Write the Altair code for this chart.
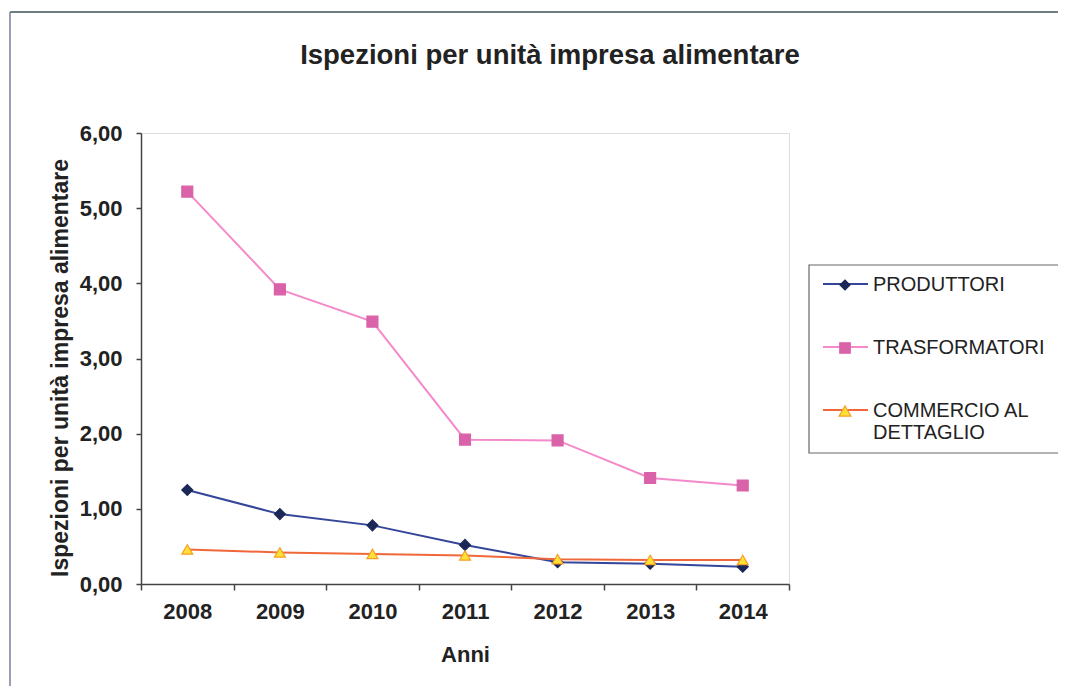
import altair as alt
import pandas as pd

# ---------------- data ----------------
chart_title = "Ispezioni per unità impresa alimentare"
y_title = "Ispezioni per unità impresa alimentare"
x_title = "Anni"
years = ["2008", "2009", "2010", "2011", "2012", "2013", "2014"]
series = ["PRODUTTORI", "TRASFORMATORI", "COMMERCIO AL DETTAGLIO"]
legend_labels = ["PRODUTTORI", "TRASFORMATORI", "COMMERCIO AL\nDETTAGLIO"]
produttori = [1.25, 0.93, 0.78, 0.52, 0.29, 0.27, 0.23]
trasformatori = [5.22, 3.92, 3.49, 1.92, 1.91, 1.41, 1.31]
commercio = [0.46, 0.42, 0.40, 0.38, 0.33, 0.32, 0.32]
y_ticks = [0, 1, 2, 3, 4, 5, 6]

rows = []
for s, vals in zip(series, [produttori, trasformatori, commercio]):
    for yr, v in zip(years, vals):
        rows.append({"Anno": yr, "Serie": s, "Valore": v})
df = pd.DataFrame(rows)
legend_df = pd.DataFrame({"Serie": series, "Label": legend_labels})
title_df = pd.DataFrame({"Titolo": [chart_title]})
frame_df = pd.DataFrame({"k": [1]})

# ---------------- styles ----------------
line_colors = ["#34469A", "#F58ACB", "#F0683A"]
fill_colors = ["#1B2756", "#D962A8", "#FFE033"]
stroke_colors = ["#1B2756", "#D962A8", "#F5A02A"]
shapes = ["diamond", "square", "triangle-up"]
leg_sizes = [100, 110, 140]

W, H = 648, 451
PAD_L, PAD_T, PAD_R, PAD_B = 133, 125, 269, 102
FONT = "Liberation Sans"

x_enc = alt.X(
    "Anno:O",
    sort=years,
    scale=alt.Scale(type="band", domain=years, paddingInner=0, paddingOuter=0),
    axis=alt.Axis(
        title=x_title, labelAngle=0, tickBand="extent", tickSize=6,
        labelPadding=11, labelFont=FONT, labelFontSize=22, labelFontWeight="bold",
        labelColor="#222", titleFont=FONT, titleFontSize=22, titleFontWeight="bold",
        titleColor="#222", titlePadding=22, domainColor="#444", tickColor="#444",
        domainWidth=1.5, tickWidth=1.5,
    ),
)
y_enc = alt.Y(
    "Valore:Q",
    scale=alt.Scale(domain=[0, 6], nice=False, zero=True),
    axis=alt.Axis(
        title=y_title, values=y_ticks, grid=False,
        labelExpr="replace(format(datum.value, '.2f'), '.', ',')",
        tickSize=5, labelPadding=14, labelFont=FONT, labelFontSize=22,
        labelFontWeight="bold", labelColor="#222", titleFont=FONT,
        titleFontSize=23, titleFontWeight="bold", titleColor="#222", titlePadding=7,
        titleY=H / 2 + 9,
        domainColor="#444", tickColor="#444", domainWidth=1.5, tickWidth=1.5,
    ),
)

lines = alt.Chart(df).mark_line(strokeWidth=2).encode(
    x=x_enc,
    y=y_enc,
    color=alt.Color("Serie:N", scale=alt.Scale(domain=series, range=line_colors), legend=None),
)

points = alt.Chart(df).mark_point(opacity=1, fillOpacity=1, strokeWidth=1.2).encode(
    x=x_enc,
    y=y_enc,
    shape=alt.Shape("Serie:N", scale=alt.Scale(domain=series, range=shapes), legend=None),
    fill=alt.Fill("Serie:N", scale=alt.Scale(domain=series, range=fill_colors), legend=None),
    stroke=alt.Stroke("Serie:N", scale=alt.Scale(domain=series, range=stroke_colors), legend=None),
    size=alt.value(120),
)

# ---------------- chart title (drawn as text so frame lines do not push it) ----------------
title_mark = alt.Chart(title_df).mark_text(
    font=FONT, fontSize=27.5, fontWeight="bold", color="#222",
    align="center", baseline="alphabetic",
).encode(x=alt.value(409), y=alt.value(-69), text="Titolo:N")

# ---------------- manual legend (outside the plot area) ----------------
leg_layers = []
box = alt.Chart(frame_df).mark_rect(fill="white", stroke="#666", strokeWidth=1.2).encode(
    x=alt.value(668), x2=alt.value(W + PAD_R + 6), y=alt.value(132), y2=alt.value(320)
)
leg_layers.append(box)
entry_y = [151, 214, 277]
for i, s in enumerate(series):
    sub = alt.Chart(legend_df).transform_filter(alt.datum.Serie == s)
    leg_layers.append(
        sub.mark_rule(color=line_colors[i], strokeWidth=2).encode(
            x=alt.value(682), x2=alt.value(727), y=alt.value(entry_y[i])
        )
    )
    leg_layers.append(
        sub.mark_point(shape=shapes[i], fill=fill_colors[i], stroke=stroke_colors[i],
                       opacity=1, fillOpacity=1, strokeWidth=1.2, size=leg_sizes[i]).encode(
            x=alt.value(704), y=alt.value(entry_y[i] + 1)
        )
    )
    leg_layers.append(
        sub.mark_text(align="left", baseline="alphabetic", font=FONT, fontSize=20,
                      color="#222", lineBreak="\n", lineHeight=22).encode(
            x=alt.value(732), y=alt.value(entry_y[i] + 7), text="Label:N"
        )
    )

# ---------------- outer frame ----------------
frame_left = alt.Chart(frame_df).mark_rule(color="#7a7f9a", strokeWidth=1.5).encode(
    x=alt.value(-131), y=alt.value(-121), y2=alt.value(H + PAD_B)
)
frame_top = alt.Chart(frame_df).mark_rule(color="#6f7f80", strokeWidth=2).encode(
    x=alt.value(-131), x2=alt.value(W + PAD_R), y=alt.value(-121)
)

chart = alt.layer(lines, points, title_mark, *leg_layers, frame_left, frame_top).properties(
    width=W,
    height=H,
    autosize=alt.AutoSizeParams(type="none"),
    padding={"left": PAD_L, "top": PAD_T, "right": PAD_R, "bottom": PAD_B},
).configure_view(stroke="#9a9a9a", strokeWidth=1.2).configure(background="white")

chart.save("out.html", embed_options={"renderer": "svg", "actions": False})
